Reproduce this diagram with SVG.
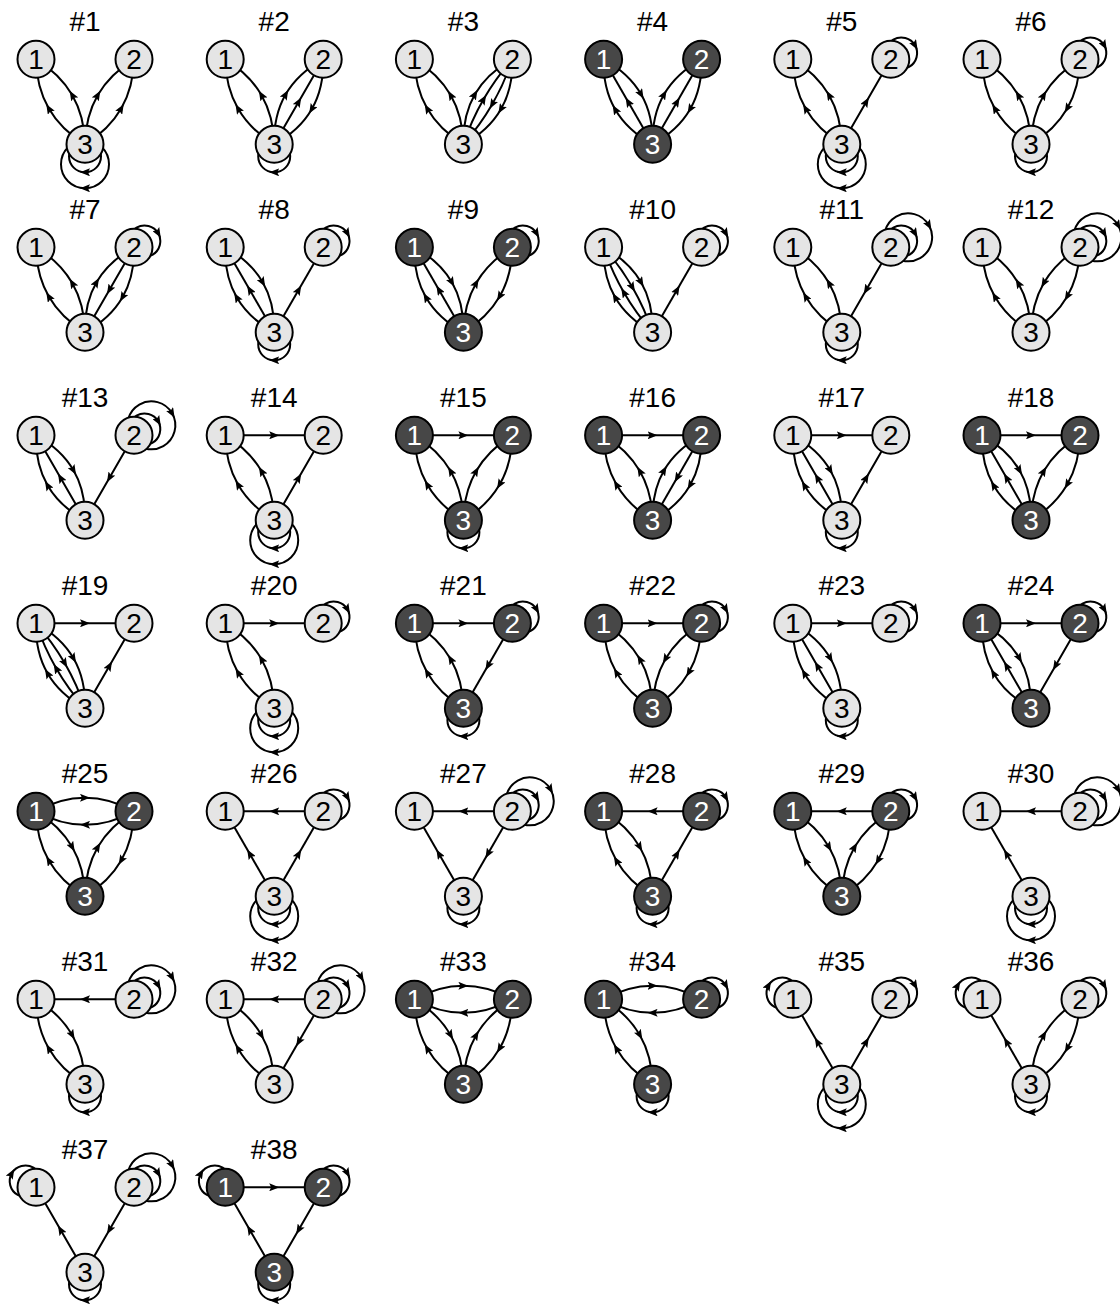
<svg xmlns="http://www.w3.org/2000/svg" xmlns:xlink="http://www.w3.org/1999/xlink" width="1120" height="1312" viewBox="0 0 1120 1312">
<style>
text{font-family:"Liberation Sans",Arial,sans-serif;text-anchor:middle}
.t{font-size:28px;fill:#000}
.lt circle,.dk circle{stroke:#000;stroke-width:2}
.lt circle{fill:#e5e5e5}
.dk circle{fill:#474747}
.lt text,.dk text{font-size:28px}
.lt text{fill:#000}
.dk text{fill:#fff}
#connectors{fill:none;stroke:#000;stroke-width:2;marker-mid:url(#arr)}
.ah{fill:#000;stroke:none}
</style>
<defs>
<marker id="arr" viewBox="0 0 10 8" refX="5" refY="4" markerWidth="10" markerHeight="8" orient="auto" markerUnits="userSpaceOnUse"><path class="ah" d="M0,0 L10,4 L0,8 L2,4 z"/></marker>
<path id="au_p135" d="M0,85 Q-23.95,70.49 -36.2,49.24 Q-48.45,27.99 -49,0"/>
<path id="au_m135" d="M0,85 Q-0.56,57.01 -12.8,35.76 Q-25.06,14.51 -49,0"/>
<path id="au_p15" d="M0,85 Q-25.25,71.24 -37.5,49.99 Q-49.75,28.74 -49,0"/>
<path id="au_z" d="M0,85 Q-12.25,63.75 -24.5,42.5 Q-36.75,21.25 -49,0"/>
<path id="au_m15" d="M0,85 Q0.75,56.26 -11.5,35.01 Q-23.76,13.76 -49,0"/>
<path id="au_p5" d="M0,85 Q-16.58,66.25 -28.83,45 Q-41.08,23.75 -49,0"/>
<path id="au_m5" d="M0,85 Q-7.92,61.26 -20.17,40 Q-32.42,18.76 -49,0"/>
<path id="ad_p135" d="M-49,0 Q-48.45,27.99 -36.2,49.24 Q-23.95,70.49 0,85"/>
<path id="ad_m135" d="M-49,0 Q-25.06,14.51 -12.8,35.76 Q-0.56,57.01 0,85"/>
<path id="ad_p15" d="M-49,0 Q-49.75,28.74 -37.5,49.99 Q-25.25,71.24 0,85"/>
<path id="ad_z" d="M-49,0 Q-36.75,21.25 -24.5,42.5 Q-12.25,63.75 0,85"/>
<path id="ad_m15" d="M-49,0 Q-23.76,13.76 -11.5,35.01 Q0.75,56.26 0,85"/>
<path id="ad_p5" d="M-49,0 Q-41.08,23.75 -28.83,45 Q-16.58,66.25 0,85"/>
<path id="ad_m5" d="M-49,0 Q-32.42,18.76 -20.17,40 Q-7.92,61.26 0,85"/>
<path id="bu_p135" d="M0,85 Q23.95,70.49 36.2,49.24 Q48.45,27.99 49,0"/>
<path id="bu_m135" d="M0,85 Q0.56,57.01 12.8,35.76 Q25.06,14.51 49,0"/>
<path id="bu_p15" d="M0,85 Q25.25,71.24 37.5,49.99 Q49.75,28.74 49,0"/>
<path id="bu_z" d="M0,85 Q12.25,63.75 24.5,42.5 Q36.75,21.25 49,0"/>
<path id="bu_m15" d="M0,85 Q-0.75,56.26 11.5,35.01 Q23.76,13.76 49,0"/>
<path id="bu_p5" d="M0,85 Q16.58,66.25 28.83,45 Q41.08,23.75 49,0"/>
<path id="bu_m5" d="M0,85 Q7.92,61.26 20.17,40 Q32.42,18.76 49,0"/>
<path id="bd_p135" d="M49,0 Q48.45,27.99 36.2,49.24 Q23.95,70.49 0,85"/>
<path id="bd_m135" d="M49,0 Q25.06,14.51 12.8,35.76 Q0.56,57.01 0,85"/>
<path id="bd_p15" d="M49,0 Q49.75,28.74 37.5,49.99 Q25.25,71.24 0,85"/>
<path id="bd_z" d="M49,0 Q36.75,21.25 24.5,42.5 Q12.25,63.75 0,85"/>
<path id="bd_m15" d="M49,0 Q23.76,13.76 11.5,35.01 Q-0.75,56.26 0,85"/>
<path id="bd_p5" d="M49,0 Q41.08,23.75 28.83,45 Q16.58,66.25 0,85"/>
<path id="bd_m5" d="M49,0 Q32.42,18.76 20.17,40 Q7.92,61.26 0,85"/>
<path id="cr" d="M-49,0 L0,0 L49,0"/>
<path id="cl" d="M49,0 L0,0 L-49,0"/>
<path id="cr_up" d="M-49,0 Q-24.5,-13.5 0,-13.5 Q24.5,-13.5 49,0"/>
<path id="cr_dn" d="M-49,0 Q-24.5,13.5 0,13.5 Q24.5,13.5 49,0"/>
<path id="cl_up" d="M49,0 Q24.5,-13.5 0,-13.5 Q-24.5,-13.5 -49,0"/>
<path id="cl_dn" d="M49,0 Q24.5,13.5 0,13.5 Q-24.5,13.5 -49,0"/>
<path id="l3a" d="M0,81 A16,16 0 0 1 0,113 A16,16 0 0 1 0,81"/>
<path id="l3b" d="M0,81 A24,24 0 0 1 0,129 A24,24 0 0 1 0,81"/>
<path id="l2a" d="M45.54,2 A16,16 0 0 1 73.25,-14 A16,16 0 0 1 45.54,2"/>
<path id="l2b" d="M45.54,2 A24,24 0 0 1 87.11,-22 A24,24 0 0 1 45.54,2"/>
<path id="l1a" d="M-45.54,2 A16,16 0 0 1 -73.25,-14 A16,16 0 0 1 -45.54,2"/>
</defs>

<g id="connectors">
<g transform="translate(85,59.3)"><use href="#au_p135"/><use href="#au_m135"/><use href="#bu_m135"/><use href="#bu_p135"/><use href="#l3a"/><use href="#l3b"/></g>
<g transform="translate(274.2,59.3)"><use href="#au_p135"/><use href="#au_m135"/><use href="#bu_m15"/><use href="#bu_z"/><use href="#bd_p15"/><use href="#l3a"/></g>
<g transform="translate(463.4,59.3)"><use href="#au_p135"/><use href="#au_m135"/><use href="#bu_m15"/><use href="#bu_m5"/><use href="#bd_p5"/><use href="#bd_p15"/></g>
<g transform="translate(652.6,59.3)"><use href="#au_p15"/><use href="#au_z"/><use href="#ad_m15"/><use href="#bu_m15"/><use href="#bu_z"/><use href="#bd_p15"/></g>
<g transform="translate(841.8,59.3)"><use href="#au_p135"/><use href="#au_m135"/><use href="#bu_z"/><use href="#l2a"/><use href="#l3a"/><use href="#l3b"/></g>
<g transform="translate(1031,59.3)"><use href="#au_p135"/><use href="#au_m135"/><use href="#bu_m135"/><use href="#bd_p135"/><use href="#l2a"/><use href="#l3a"/></g>
<g transform="translate(85,247.3)"><use href="#au_p135"/><use href="#au_m135"/><use href="#bu_m15"/><use href="#bd_z"/><use href="#bd_p15"/><use href="#l2a"/></g>
<g transform="translate(274.2,247.3)"><use href="#au_p15"/><use href="#au_z"/><use href="#ad_m15"/><use href="#bu_z"/><use href="#l2a"/><use href="#l3a"/></g>
<g transform="translate(463.4,247.3)"><use href="#au_p15"/><use href="#au_z"/><use href="#ad_m15"/><use href="#bu_m135"/><use href="#bd_p135"/><use href="#l2a"/></g>
<g transform="translate(652.6,247.3)"><use href="#au_p15"/><use href="#au_p5"/><use href="#ad_m5"/><use href="#ad_m15"/><use href="#bu_z"/><use href="#l2a"/></g>
<g transform="translate(841.8,247.3)"><use href="#au_p135"/><use href="#au_m135"/><use href="#bd_z"/><use href="#l2a"/><use href="#l2b"/><use href="#l3a"/></g>
<g transform="translate(1031,247.3)"><use href="#au_p135"/><use href="#au_m135"/><use href="#bd_m135"/><use href="#bd_p135"/><use href="#l2a"/><use href="#l2b"/></g>
<g transform="translate(85,435.3)"><use href="#au_p15"/><use href="#au_z"/><use href="#ad_m15"/><use href="#bd_z"/><use href="#l2a"/><use href="#l2b"/></g>
<g transform="translate(274.2,435.3)"><use href="#au_p135"/><use href="#au_m135"/><use href="#bu_z"/><use href="#cr"/><use href="#l3a"/><use href="#l3b"/></g>
<g transform="translate(463.4,435.3)"><use href="#au_p135"/><use href="#au_m135"/><use href="#bu_m135"/><use href="#bd_p135"/><use href="#cr"/><use href="#l3a"/></g>
<g transform="translate(652.6,435.3)"><use href="#au_p135"/><use href="#au_m135"/><use href="#bu_m15"/><use href="#bd_z"/><use href="#bd_p15"/><use href="#cr"/></g>
<g transform="translate(841.8,435.3)"><use href="#au_p15"/><use href="#au_z"/><use href="#ad_m15"/><use href="#bu_z"/><use href="#cr"/><use href="#l3a"/></g>
<g transform="translate(1031,435.3)"><use href="#au_p15"/><use href="#au_z"/><use href="#ad_m15"/><use href="#bu_m135"/><use href="#bd_p135"/><use href="#cr"/></g>
<g transform="translate(85,623.3)"><use href="#au_p15"/><use href="#au_p5"/><use href="#ad_m5"/><use href="#ad_m15"/><use href="#bu_z"/><use href="#cr"/></g>
<g transform="translate(274.2,623.3)"><use href="#au_p135"/><use href="#au_m135"/><use href="#cr"/><use href="#l2a"/><use href="#l3a"/><use href="#l3b"/></g>
<g transform="translate(463.4,623.3)"><use href="#au_p135"/><use href="#au_m135"/><use href="#bd_z"/><use href="#cr"/><use href="#l2a"/><use href="#l3a"/></g>
<g transform="translate(652.6,623.3)"><use href="#au_p135"/><use href="#au_m135"/><use href="#bd_m135"/><use href="#bd_p135"/><use href="#cr"/><use href="#l2a"/></g>
<g transform="translate(841.8,623.3)"><use href="#au_p15"/><use href="#au_z"/><use href="#ad_m15"/><use href="#cr"/><use href="#l2a"/><use href="#l3a"/></g>
<g transform="translate(1031,623.3)"><use href="#au_p15"/><use href="#au_z"/><use href="#ad_m15"/><use href="#bd_z"/><use href="#cr"/><use href="#l2a"/></g>
<g transform="translate(85,811.3)"><use href="#au_p135"/><use href="#ad_m135"/><use href="#bu_m135"/><use href="#bd_p135"/><use href="#cr_up"/><use href="#cl_dn"/></g>
<g transform="translate(274.2,811.3)"><use href="#au_z"/><use href="#bu_z"/><use href="#cl"/><use href="#l2a"/><use href="#l3a"/><use href="#l3b"/></g>
<g transform="translate(463.4,811.3)"><use href="#au_z"/><use href="#bd_z"/><use href="#cl"/><use href="#l2a"/><use href="#l2b"/><use href="#l3a"/></g>
<g transform="translate(652.6,811.3)"><use href="#au_p135"/><use href="#ad_m135"/><use href="#bu_z"/><use href="#cl"/><use href="#l2a"/><use href="#l3a"/></g>
<g transform="translate(841.8,811.3)"><use href="#au_p135"/><use href="#ad_m135"/><use href="#bu_m135"/><use href="#bd_p135"/><use href="#cl"/><use href="#l2a"/></g>
<g transform="translate(1031,811.3)"><use href="#au_z"/><use href="#cl"/><use href="#l2a"/><use href="#l2b"/><use href="#l3a"/><use href="#l3b"/></g>
<g transform="translate(85,999.3)"><use href="#au_p135"/><use href="#ad_m135"/><use href="#cl"/><use href="#l2a"/><use href="#l2b"/><use href="#l3a"/></g>
<g transform="translate(274.2,999.3)"><use href="#au_p135"/><use href="#ad_m135"/><use href="#bd_z"/><use href="#cl"/><use href="#l2a"/><use href="#l2b"/></g>
<g transform="translate(463.4,999.3)"><use href="#au_p135"/><use href="#ad_m135"/><use href="#bu_m135"/><use href="#bd_p135"/><use href="#cr_up"/><use href="#cl_dn"/></g>
<g transform="translate(652.6,999.3)"><use href="#au_p135"/><use href="#ad_m135"/><use href="#cr_up"/><use href="#cl_dn"/><use href="#l2a"/><use href="#l3a"/></g>
<g transform="translate(841.8,999.3)"><use href="#au_z"/><use href="#bu_z"/><use href="#l1a"/><use href="#l2a"/><use href="#l3a"/><use href="#l3b"/></g>
<g transform="translate(1031,999.3)"><use href="#au_z"/><use href="#bu_m135"/><use href="#bd_p135"/><use href="#l1a"/><use href="#l2a"/><use href="#l3a"/></g>
<g transform="translate(85,1187.3)"><use href="#au_z"/><use href="#bd_z"/><use href="#l1a"/><use href="#l2a"/><use href="#l2b"/><use href="#l3a"/></g>
<g transform="translate(274.2,1187.3)"><use href="#au_z"/><use href="#bd_z"/><use href="#cr"/><use href="#l1a"/><use href="#l2a"/><use href="#l3a"/></g>
</g>

<g id="graph1" transform="translate(85,59.3)"><text class="t" y="-28.6">#1</text><g id="g1-n1" class="lt"><circle cx="-49" r="18.5"/><text x="-49" y="10">1</text></g><g id="g1-n2" class="lt"><circle cx="49" r="18.5"/><text x="49" y="10">2</text></g><g id="g1-n3" class="lt"><circle cy="85" r="18.5"/><text y="95">3</text></g></g>
<g id="graph2" transform="translate(274.2,59.3)"><text class="t" y="-28.6">#2</text><g id="g2-n1" class="lt"><circle cx="-49" r="18.5"/><text x="-49" y="10">1</text></g><g id="g2-n2" class="lt"><circle cx="49" r="18.5"/><text x="49" y="10">2</text></g><g id="g2-n3" class="lt"><circle cy="85" r="18.5"/><text y="95">3</text></g></g>
<g id="graph3" transform="translate(463.4,59.3)"><text class="t" y="-28.6">#3</text><g id="g3-n1" class="lt"><circle cx="-49" r="18.5"/><text x="-49" y="10">1</text></g><g id="g3-n2" class="lt"><circle cx="49" r="18.5"/><text x="49" y="10">2</text></g><g id="g3-n3" class="lt"><circle cy="85" r="18.5"/><text y="95">3</text></g></g>
<g id="graph4" transform="translate(652.6,59.3)"><text class="t" y="-28.6">#4</text><g id="g4-n1" class="dk"><circle cx="-49" r="18.5"/><text x="-49" y="10">1</text></g><g id="g4-n2" class="dk"><circle cx="49" r="18.5"/><text x="49" y="10">2</text></g><g id="g4-n3" class="dk"><circle cy="85" r="18.5"/><text y="95">3</text></g></g>
<g id="graph5" transform="translate(841.8,59.3)"><text class="t" y="-28.6">#5</text><g id="g5-n1" class="lt"><circle cx="-49" r="18.5"/><text x="-49" y="10">1</text></g><g id="g5-n2" class="lt"><circle cx="49" r="18.5"/><text x="49" y="10">2</text></g><g id="g5-n3" class="lt"><circle cy="85" r="18.5"/><text y="95">3</text></g></g>
<g id="graph6" transform="translate(1031,59.3)"><text class="t" y="-28.6">#6</text><g id="g6-n1" class="lt"><circle cx="-49" r="18.5"/><text x="-49" y="10">1</text></g><g id="g6-n2" class="lt"><circle cx="49" r="18.5"/><text x="49" y="10">2</text></g><g id="g6-n3" class="lt"><circle cy="85" r="18.5"/><text y="95">3</text></g></g>
<g id="graph7" transform="translate(85,247.3)"><text class="t" y="-28.6">#7</text><g id="g7-n1" class="lt"><circle cx="-49" r="18.5"/><text x="-49" y="10">1</text></g><g id="g7-n2" class="lt"><circle cx="49" r="18.5"/><text x="49" y="10">2</text></g><g id="g7-n3" class="lt"><circle cy="85" r="18.5"/><text y="95">3</text></g></g>
<g id="graph8" transform="translate(274.2,247.3)"><text class="t" y="-28.6">#8</text><g id="g8-n1" class="lt"><circle cx="-49" r="18.5"/><text x="-49" y="10">1</text></g><g id="g8-n2" class="lt"><circle cx="49" r="18.5"/><text x="49" y="10">2</text></g><g id="g8-n3" class="lt"><circle cy="85" r="18.5"/><text y="95">3</text></g></g>
<g id="graph9" transform="translate(463.4,247.3)"><text class="t" y="-28.6">#9</text><g id="g9-n1" class="dk"><circle cx="-49" r="18.5"/><text x="-49" y="10">1</text></g><g id="g9-n2" class="dk"><circle cx="49" r="18.5"/><text x="49" y="10">2</text></g><g id="g9-n3" class="dk"><circle cy="85" r="18.5"/><text y="95">3</text></g></g>
<g id="graph10" transform="translate(652.6,247.3)"><text class="t" y="-28.6">#10</text><g id="g10-n1" class="lt"><circle cx="-49" r="18.5"/><text x="-49" y="10">1</text></g><g id="g10-n2" class="lt"><circle cx="49" r="18.5"/><text x="49" y="10">2</text></g><g id="g10-n3" class="lt"><circle cy="85" r="18.5"/><text y="95">3</text></g></g>
<g id="graph11" transform="translate(841.8,247.3)"><text class="t" y="-28.6">#11</text><g id="g11-n1" class="lt"><circle cx="-49" r="18.5"/><text x="-49" y="10">1</text></g><g id="g11-n2" class="lt"><circle cx="49" r="18.5"/><text x="49" y="10">2</text></g><g id="g11-n3" class="lt"><circle cy="85" r="18.5"/><text y="95">3</text></g></g>
<g id="graph12" transform="translate(1031,247.3)"><text class="t" y="-28.6">#12</text><g id="g12-n1" class="lt"><circle cx="-49" r="18.5"/><text x="-49" y="10">1</text></g><g id="g12-n2" class="lt"><circle cx="49" r="18.5"/><text x="49" y="10">2</text></g><g id="g12-n3" class="lt"><circle cy="85" r="18.5"/><text y="95">3</text></g></g>
<g id="graph13" transform="translate(85,435.3)"><text class="t" y="-28.6">#13</text><g id="g13-n1" class="lt"><circle cx="-49" r="18.5"/><text x="-49" y="10">1</text></g><g id="g13-n2" class="lt"><circle cx="49" r="18.5"/><text x="49" y="10">2</text></g><g id="g13-n3" class="lt"><circle cy="85" r="18.5"/><text y="95">3</text></g></g>
<g id="graph14" transform="translate(274.2,435.3)"><text class="t" y="-28.6">#14</text><g id="g14-n1" class="lt"><circle cx="-49" r="18.5"/><text x="-49" y="10">1</text></g><g id="g14-n2" class="lt"><circle cx="49" r="18.5"/><text x="49" y="10">2</text></g><g id="g14-n3" class="lt"><circle cy="85" r="18.5"/><text y="95">3</text></g></g>
<g id="graph15" transform="translate(463.4,435.3)"><text class="t" y="-28.6">#15</text><g id="g15-n1" class="dk"><circle cx="-49" r="18.5"/><text x="-49" y="10">1</text></g><g id="g15-n2" class="dk"><circle cx="49" r="18.5"/><text x="49" y="10">2</text></g><g id="g15-n3" class="dk"><circle cy="85" r="18.5"/><text y="95">3</text></g></g>
<g id="graph16" transform="translate(652.6,435.3)"><text class="t" y="-28.6">#16</text><g id="g16-n1" class="dk"><circle cx="-49" r="18.5"/><text x="-49" y="10">1</text></g><g id="g16-n2" class="dk"><circle cx="49" r="18.5"/><text x="49" y="10">2</text></g><g id="g16-n3" class="dk"><circle cy="85" r="18.5"/><text y="95">3</text></g></g>
<g id="graph17" transform="translate(841.8,435.3)"><text class="t" y="-28.6">#17</text><g id="g17-n1" class="lt"><circle cx="-49" r="18.5"/><text x="-49" y="10">1</text></g><g id="g17-n2" class="lt"><circle cx="49" r="18.5"/><text x="49" y="10">2</text></g><g id="g17-n3" class="lt"><circle cy="85" r="18.5"/><text y="95">3</text></g></g>
<g id="graph18" transform="translate(1031,435.3)"><text class="t" y="-28.6">#18</text><g id="g18-n1" class="dk"><circle cx="-49" r="18.5"/><text x="-49" y="10">1</text></g><g id="g18-n2" class="dk"><circle cx="49" r="18.5"/><text x="49" y="10">2</text></g><g id="g18-n3" class="dk"><circle cy="85" r="18.5"/><text y="95">3</text></g></g>
<g id="graph19" transform="translate(85,623.3)"><text class="t" y="-28.6">#19</text><g id="g19-n1" class="lt"><circle cx="-49" r="18.5"/><text x="-49" y="10">1</text></g><g id="g19-n2" class="lt"><circle cx="49" r="18.5"/><text x="49" y="10">2</text></g><g id="g19-n3" class="lt"><circle cy="85" r="18.5"/><text y="95">3</text></g></g>
<g id="graph20" transform="translate(274.2,623.3)"><text class="t" y="-28.6">#20</text><g id="g20-n1" class="lt"><circle cx="-49" r="18.5"/><text x="-49" y="10">1</text></g><g id="g20-n2" class="lt"><circle cx="49" r="18.5"/><text x="49" y="10">2</text></g><g id="g20-n3" class="lt"><circle cy="85" r="18.5"/><text y="95">3</text></g></g>
<g id="graph21" transform="translate(463.4,623.3)"><text class="t" y="-28.6">#21</text><g id="g21-n1" class="dk"><circle cx="-49" r="18.5"/><text x="-49" y="10">1</text></g><g id="g21-n2" class="dk"><circle cx="49" r="18.5"/><text x="49" y="10">2</text></g><g id="g21-n3" class="dk"><circle cy="85" r="18.5"/><text y="95">3</text></g></g>
<g id="graph22" transform="translate(652.6,623.3)"><text class="t" y="-28.6">#22</text><g id="g22-n1" class="dk"><circle cx="-49" r="18.5"/><text x="-49" y="10">1</text></g><g id="g22-n2" class="dk"><circle cx="49" r="18.5"/><text x="49" y="10">2</text></g><g id="g22-n3" class="dk"><circle cy="85" r="18.5"/><text y="95">3</text></g></g>
<g id="graph23" transform="translate(841.8,623.3)"><text class="t" y="-28.6">#23</text><g id="g23-n1" class="lt"><circle cx="-49" r="18.5"/><text x="-49" y="10">1</text></g><g id="g23-n2" class="lt"><circle cx="49" r="18.5"/><text x="49" y="10">2</text></g><g id="g23-n3" class="lt"><circle cy="85" r="18.5"/><text y="95">3</text></g></g>
<g id="graph24" transform="translate(1031,623.3)"><text class="t" y="-28.6">#24</text><g id="g24-n1" class="dk"><circle cx="-49" r="18.5"/><text x="-49" y="10">1</text></g><g id="g24-n2" class="dk"><circle cx="49" r="18.5"/><text x="49" y="10">2</text></g><g id="g24-n3" class="dk"><circle cy="85" r="18.5"/><text y="95">3</text></g></g>
<g id="graph25" transform="translate(85,811.3)"><text class="t" y="-28.6">#25</text><g id="g25-n1" class="dk"><circle cx="-49" r="18.5"/><text x="-49" y="10">1</text></g><g id="g25-n2" class="dk"><circle cx="49" r="18.5"/><text x="49" y="10">2</text></g><g id="g25-n3" class="dk"><circle cy="85" r="18.5"/><text y="95">3</text></g></g>
<g id="graph26" transform="translate(274.2,811.3)"><text class="t" y="-28.6">#26</text><g id="g26-n1" class="lt"><circle cx="-49" r="18.5"/><text x="-49" y="10">1</text></g><g id="g26-n2" class="lt"><circle cx="49" r="18.5"/><text x="49" y="10">2</text></g><g id="g26-n3" class="lt"><circle cy="85" r="18.5"/><text y="95">3</text></g></g>
<g id="graph27" transform="translate(463.4,811.3)"><text class="t" y="-28.6">#27</text><g id="g27-n1" class="lt"><circle cx="-49" r="18.5"/><text x="-49" y="10">1</text></g><g id="g27-n2" class="lt"><circle cx="49" r="18.5"/><text x="49" y="10">2</text></g><g id="g27-n3" class="lt"><circle cy="85" r="18.5"/><text y="95">3</text></g></g>
<g id="graph28" transform="translate(652.6,811.3)"><text class="t" y="-28.6">#28</text><g id="g28-n1" class="dk"><circle cx="-49" r="18.5"/><text x="-49" y="10">1</text></g><g id="g28-n2" class="dk"><circle cx="49" r="18.5"/><text x="49" y="10">2</text></g><g id="g28-n3" class="dk"><circle cy="85" r="18.5"/><text y="95">3</text></g></g>
<g id="graph29" transform="translate(841.8,811.3)"><text class="t" y="-28.6">#29</text><g id="g29-n1" class="dk"><circle cx="-49" r="18.5"/><text x="-49" y="10">1</text></g><g id="g29-n2" class="dk"><circle cx="49" r="18.5"/><text x="49" y="10">2</text></g><g id="g29-n3" class="dk"><circle cy="85" r="18.5"/><text y="95">3</text></g></g>
<g id="graph30" transform="translate(1031,811.3)"><text class="t" y="-28.6">#30</text><g id="g30-n1" class="lt"><circle cx="-49" r="18.5"/><text x="-49" y="10">1</text></g><g id="g30-n2" class="lt"><circle cx="49" r="18.5"/><text x="49" y="10">2</text></g><g id="g30-n3" class="lt"><circle cy="85" r="18.5"/><text y="95">3</text></g></g>
<g id="graph31" transform="translate(85,999.3)"><text class="t" y="-28.6">#31</text><g id="g31-n1" class="lt"><circle cx="-49" r="18.5"/><text x="-49" y="10">1</text></g><g id="g31-n2" class="lt"><circle cx="49" r="18.5"/><text x="49" y="10">2</text></g><g id="g31-n3" class="lt"><circle cy="85" r="18.5"/><text y="95">3</text></g></g>
<g id="graph32" transform="translate(274.2,999.3)"><text class="t" y="-28.6">#32</text><g id="g32-n1" class="lt"><circle cx="-49" r="18.5"/><text x="-49" y="10">1</text></g><g id="g32-n2" class="lt"><circle cx="49" r="18.5"/><text x="49" y="10">2</text></g><g id="g32-n3" class="lt"><circle cy="85" r="18.5"/><text y="95">3</text></g></g>
<g id="graph33" transform="translate(463.4,999.3)"><text class="t" y="-28.6">#33</text><g id="g33-n1" class="dk"><circle cx="-49" r="18.5"/><text x="-49" y="10">1</text></g><g id="g33-n2" class="dk"><circle cx="49" r="18.5"/><text x="49" y="10">2</text></g><g id="g33-n3" class="dk"><circle cy="85" r="18.5"/><text y="95">3</text></g></g>
<g id="graph34" transform="translate(652.6,999.3)"><text class="t" y="-28.6">#34</text><g id="g34-n1" class="dk"><circle cx="-49" r="18.5"/><text x="-49" y="10">1</text></g><g id="g34-n2" class="dk"><circle cx="49" r="18.5"/><text x="49" y="10">2</text></g><g id="g34-n3" class="dk"><circle cy="85" r="18.5"/><text y="95">3</text></g></g>
<g id="graph35" transform="translate(841.8,999.3)"><text class="t" y="-28.6">#35</text><g id="g35-n1" class="lt"><circle cx="-49" r="18.5"/><text x="-49" y="10">1</text></g><g id="g35-n2" class="lt"><circle cx="49" r="18.5"/><text x="49" y="10">2</text></g><g id="g35-n3" class="lt"><circle cy="85" r="18.5"/><text y="95">3</text></g></g>
<g id="graph36" transform="translate(1031,999.3)"><text class="t" y="-28.6">#36</text><g id="g36-n1" class="lt"><circle cx="-49" r="18.5"/><text x="-49" y="10">1</text></g><g id="g36-n2" class="lt"><circle cx="49" r="18.5"/><text x="49" y="10">2</text></g><g id="g36-n3" class="lt"><circle cy="85" r="18.5"/><text y="95">3</text></g></g>
<g id="graph37" transform="translate(85,1187.3)"><text class="t" y="-28.6">#37</text><g id="g37-n1" class="lt"><circle cx="-49" r="18.5"/><text x="-49" y="10">1</text></g><g id="g37-n2" class="lt"><circle cx="49" r="18.5"/><text x="49" y="10">2</text></g><g id="g37-n3" class="lt"><circle cy="85" r="18.5"/><text y="95">3</text></g></g>
<g id="graph38" transform="translate(274.2,1187.3)"><text class="t" y="-28.6">#38</text><g id="g38-n1" class="dk"><circle cx="-49" r="18.5"/><text x="-49" y="10">1</text></g><g id="g38-n2" class="dk"><circle cx="49" r="18.5"/><text x="49" y="10">2</text></g><g id="g38-n3" class="dk"><circle cy="85" r="18.5"/><text y="95">3</text></g></g>
</svg>
